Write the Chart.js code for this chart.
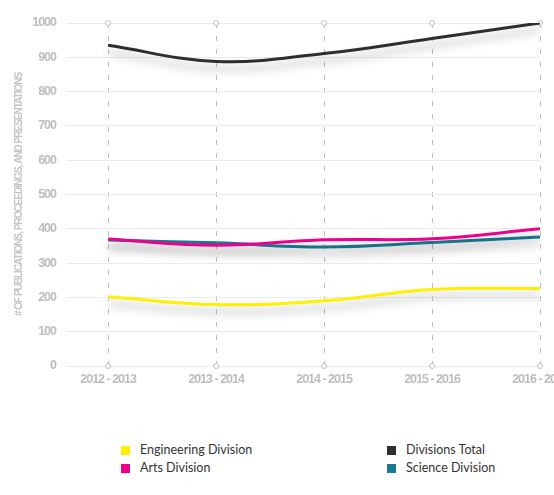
<!DOCTYPE html>
<html>
<head>
<meta charset="utf-8">
<script src="https://cdn.jsdelivr.net/npm/chart.js@4"></script>
<style>
  body { margin: 0; background: #fff; width: 554px; height: 495px; overflow: hidden; position: relative; }
  #wrap { position: absolute; left: 0; top: 0; width: 554px; height: 393px; }
  #legend { position: absolute; left: 121px; top: 441px; display: grid; grid-template-columns: 266px 200px;
    font-family: Lato, sans-serif; font-size: 12.5px; color: #333; line-height: 18px; }
  #legend span.box { display: inline-block; width: 9px; height: 9px; margin-right: 10px; vertical-align: -1px; }
</style>
</head>
<body>
<div id="wrap"><canvas id="grafik" width="554" height="393"></canvas></div>
<div id="legend"></div>
<script>
const tahun = ["2012 - 2013", "2013 - 2014", "2014 - 2015", "2015 - 2016", "2016 - 2017"];
const engineering = [202, 179, 190, 223, 226];
const arts = [370, 352, 368, 371, 400];
const total = [935, 888, 911, 955, 1000];
const science = [367, 359, 347, 360, 376];
const yTicks = [0, 100, 200, 300, 400, 500, 600, 700, 800, 900, 1000];

const narrow = "'Liberation Sans', Arial, sans-serif";
const abu = "#bdbdbd";

function seri(label, vals, color) {
  return {
    label: label,
    data: vals.map((v, i) => ({ x: i, y: v })),
    borderColor: color,
    backgroundColor: color,
    borderWidth: 3,
    tension: 0.4,
    pointRadius: 0,
    fill: false,
  };
}

// tighter letters so the axis text looks condensed
const rapat = {
  id: "rapat",
  beforeDraw(chart) { chart.ctx.letterSpacing = "-1px"; },
  afterDraw(chart) { chart.ctx.letterSpacing = "0px"; },
};

// shadow under each line
const bayangan = {
  id: "bayangan",
  beforeDatasetDraw(chart) {
    const ctx = chart.ctx;
    ctx.save();
    ctx.shadowColor = "rgba(0,0,0,0.3)";
    ctx.shadowBlur = 10;
    ctx.shadowOffsetY = 7;
  },
  afterDatasetDraw(chart) {
    chart.ctx.restore();
  },
};

// small circles at the ends of each vertical grid line
const bulatan = {
  id: "bulatan",
  beforeDatasetsDraw(chart) {
    const { ctx, chartArea, scales } = chart;
    ctx.save();
    ctx.strokeStyle = abu;
    ctx.fillStyle = "#fff";
    ctx.lineWidth = 1;
    scales.x.ticks.forEach(t => {
      const px = scales.x.getPixelForValue(t.value);
      [chartArea.top, chartArea.bottom].forEach(py => {
        ctx.beginPath();
        ctx.arc(px, py, 2.5, 0, Math.PI * 2);
        ctx.fill();
        ctx.stroke();
      });
    });
    ctx.restore();
  },
};

const ctx = document.getElementById("grafik").getContext("2d");
const chart = new Chart(ctx, {
  type: "line",
  data: {
    datasets: [
      seri("Engineering Division", engineering, "#fff000"),
      seri("Arts Division", arts, "#ec008c"),
      seri("Divisions Total", total, "#2e2e2e"),
      seri("Science Division", science, "#187b93"),
    ],
  },
  plugins: [rapat, bayangan, bulatan],
  options: {
    responsive: false,
    animation: false,
    layout: { autoPadding: false, padding: { top: 23, right: 14, bottom: 0, left: 0 } },
    plugins: { legend: { display: false }, tooltip: { enabled: false } },
    scales: {
      x: {
        type: "linear",
        min: -0.39,
        max: tahun.length - 1,
        afterBuildTicks: s => { s.ticks = tahun.map((_, i) => ({ value: i })); },
        afterFit: s => { s.paddingLeft = 0; s.paddingRight = 0; },
        grid: { color: abu, lineWidth: 1, drawTicks: false },
        border: { display: false, dash: [5, 8] },
        ticks: {
          padding: 6,
          color: abu,
          font: { family: narrow, size: 12.5, weight: "bold" },
          callback: v => tahun[v],
          maxRotation: 0,
        },
      },
      y: {
        min: 0,
        max: 1000,
        afterBuildTicks: s => { s.ticks = yTicks.map(v => ({ value: v })); },
        afterFit: s => { s.width = 66; s.paddingTop = 0; s.paddingBottom = 0; },
        grid: { color: "#ebebeb", lineWidth: 1, drawTicks: false },
        border: { display: false },
        ticks: {
          padding: 10,
          color: abu,
          font: { family: narrow, size: 12.5, weight: "bold" },
          callback: v => String(v),
        },
        title: {
          display: true,
          text: "# OF PUBLICATIONS, PROCEEDINGS, AND PRESENTATIONS",
          color: "#c4c4c4",
          font: { family: narrow, size: 10, weight: "bold" },
          padding: { top: 13, bottom: 0 },
        },
      },
    },
  },
});

// legend in two columns
const urutan = [0, 2, 1, 3];
const legend = document.getElementById("legend");
urutan.forEach(i => {
  const ds = chart.data.datasets[i];
  const div = document.createElement("div");
  const box = document.createElement("span");
  box.className = "box";
  box.style.background = ds.borderColor;
  div.appendChild(box);
  div.appendChild(document.createTextNode(ds.label));
  legend.appendChild(div);
});
</script>
</body>
</html>
